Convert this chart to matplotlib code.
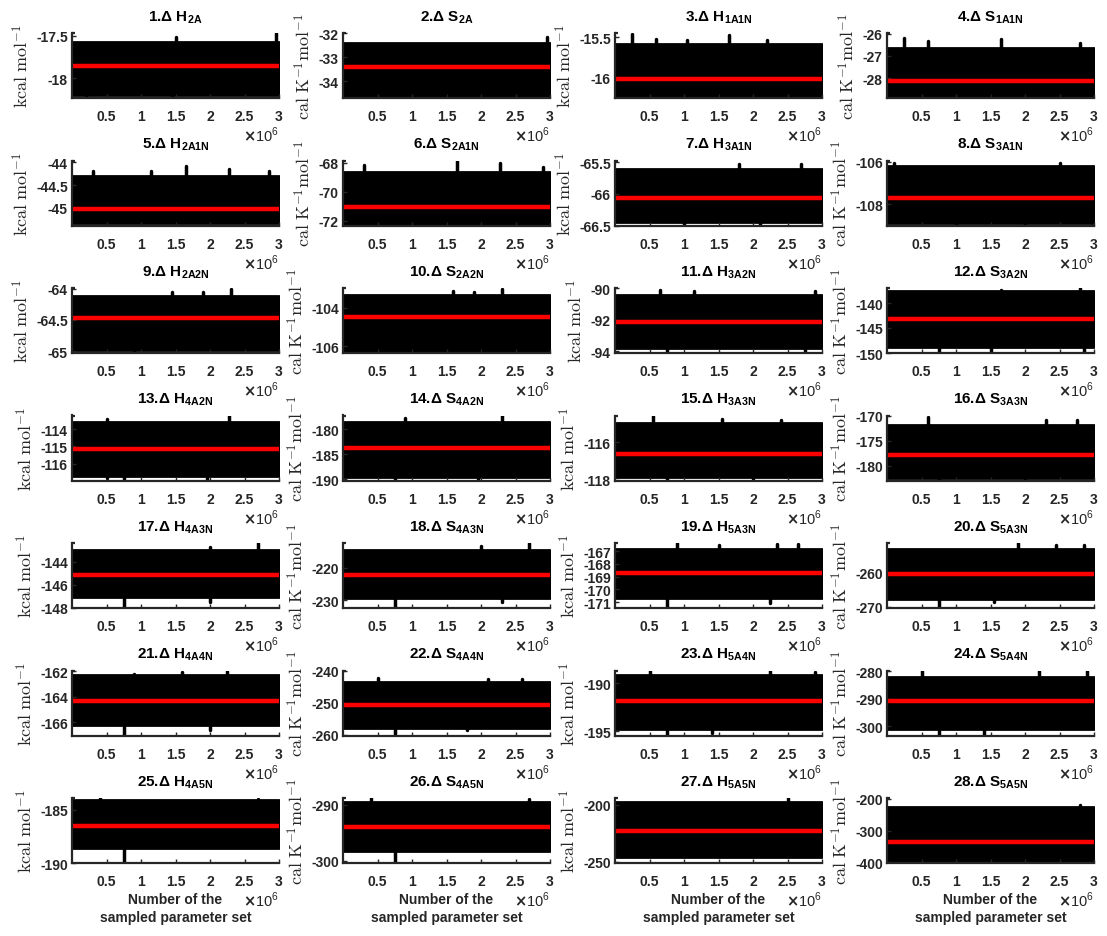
import matplotlib
matplotlib.use("Agg")
import matplotlib.pyplot as plt

plt.rcParams['font.family'] = ['Liberation Sans', 'DejaVu Sans']
plt.rcParams['font.weight'] = 'bold'
plt.rcParams['axes.unicode_minus'] = False
plt.rcParams['mathtext.fontset'] = 'custom'
plt.rcParams['mathtext.rm'] = 'Liberation Sans:bold'
plt.rcParams['mathtext.it'] = 'Liberation Sans:bold'
plt.rcParams['mathtext.bf'] = 'Liberation Sans:bold'

# ---------------- data ----------------
symbols = ['H', 'S'] * 14
subscripts = ['2A', '2A', '1A1N', '1A1N', '2A1N', '2A1N', '3A1N', '3A1N',
              '2A2N', '2A2N', '3A2N', '3A2N', '4A2N', '4A2N', '3A3N', '3A3N',
              '4A3N', '4A3N', '5A3N', '5A3N', '4A4N', '4A4N', '5A4N', '5A4N',
              '4A5N', '4A5N', '5A5N', '5A5N']

n_samples = 3.0e6
x_ticks = [0.5e6, 1.0e6, 1.5e6, 2.0e6, 2.5e6, 3.0e6]
x_ticklabels = ['0.5', '1', '1.5', '2', '2.5', '3']
xlabel_lines = ['Number of the', 'sampled parameter set']

# posterior mean (red line)
means = [-17.85, -33.40, -16.02, -28.11, -45.03, -71.04, -66.06, -107.73,
         -64.47, -104.47, -92.15, -143.2, -115.14, -183.7, -116.61, -177.9,
         -145.14, -222.2, -168.73, -260.3, -164.34, -250.7, -191.9, -291.0,
         -186.49, -294.0, -222.8, -335.0]
# bulk of the sampled trace (upper / lower edge)
band_top = [-17.57, -32.38, -15.59, -26.65, -44.29, -68.64, -65.60, -106.19,
            -64.12, -103.30, -90.42, -137.5, -113.61, -178.5, -114.99, -171.9,
            -143.0, -214.7, -166.8, -253.1, -162.34, -243.6, -189.2, -282.2,
            -184.1, -289.5, -197.4, -224.0]
band_bot = [-18.195, -34.63, -16.225, -28.81, -45.34, -72.23, -66.45, -108.9,
            -64.98, -106.26, -93.79, -148.7, -116.72, -189.5, -117.85, -182.4,
            -147.09, -229.3, -170.7, -267.6, -166.26, -257.9, -194.76, -301.2,
            -188.6, -298.2, -245.6, -403.0]
# axis limits
y_lo = [-18.23, -34.70, -16.25, -28.89, -45.39, -72.34, -66.50, -109.0,
        -65.03, -106.35, -94.10, -150.0, -116.97, -190.2, -118.04, -182.9,
        -148.03, -232.3, -171.46, -270.3, -167.05, -260.2, -195.45, -303.4,
        -190.0, -300.4, -250.9, -403.0]
y_hi = [-17.47, -31.98, -15.45, -25.97, -43.96, -67.84, -65.47, -105.95,
        -63.99, -102.96, -90.0, -137.0, -113.22, -177.3, -114.57, -170.2,
        -142.37, -212.5, -166.35, -251.4, -161.95, -240.0, -188.68, -279.76,
        -183.9, -288.75, -193.9, -197.0]
y_ticks = [[-18, -17.5], [-34, -33, -32], [-16, -15.5], [-28, -27, -26],
           [-45, -44.5, -44], [-72, -70, -68], [-66.5, -66, -65.5], [-108, -106],
           [-65, -64.5, -64], [-106, -104], [-94, -92, -90], [-150, -145, -140],
           [-116, -115, -114], [-190, -185, -180], [-118, -116], [-180, -175, -170],
           [-148, -146, -144], [-230, -220], [-171, -170, -169, -168, -167], [-270, -260],
           [-166, -164, -162], [-260, -250, -240], [-195, -190], [-300, -290, -280],
           [-190, -185], [-300, -290], [-250, -200], [-400, -300, -200]]
# isolated excursions (x in millions of samples, value)
spikes_up = [
    [(2.95, -17.47), (1.5, -17.52)],
    [(2.95, -32.15)],
    [(0.25, -15.46), (1.65, -15.47), (0.6, -15.52), (1.05, -15.53), (2.2, -15.53)],
    [(0.25, -26.2), (1.65, -26.25), (0.6, -26.35), (2.8, -26.4)],
    [(1.65, -44.09), (2.27, -44.14), (0.3, -44.18), (1.15, -44.2), (2.85, -44.2)],
    [(1.65, -67.84), (2.27, -68.02), (0.3, -68.18), (2.9, -68.3)],
    [(1.8, -65.52), (2.7, -65.53)],
    [(0.1, -106.05), (2.5, -106.05)],
    [(2.3, -64.0), (1.45, -64.05), (1.9, -64.05)],
    [(2.3, -103.0), (1.6, -103.1), (1.9, -103.15)],
    [(0.65, -90.15), (1.15, -90.2), (2.9, -90.2)],
    [(2.8, -137.0), (1.65, -137.3)],
    [(2.27, -113.22), (0.5, -113.4)],
    [(2.3, -177.3), (0.9, -177.8)],
    [(0.55, -114.57), (1.55, -114.75), (2.4, -114.8)],
    [(0.6, -170.3), (2.3, -170.9), (2.75, -170.8)],
    [(2.7, -142.37), (2.0, -142.7)],
    [(2.7, -212.5), (2.0, -213.5)],
    [(0.9, -166.35), (1.5, -166.5), (2.35, -166.4), (2.65, -166.4)],
    [(1.9, -251.4), (2.45, -252.0), (2.85, -252.0)],
    [(2.25, -161.95), (1.6, -162.1), (0.9, -162.2)],
    [(0.5, -242.3), (2.1, -242.6), (2.6, -242.7)],
    [(0.5, -188.68), (2.25, -188.7), (2.9, -188.8)],
    [(0.5, -280.0), (2.2, -279.76), (2.9, -280.0)],
    [(0.4, -183.9), (2.7, -184.0)],
    [(0.4, -288.8), (2.7, -288.9)],
    [(2.5, -194.2)],
    [(2.8, -220.0)],
]
spikes_down = [
    [(0.2, -18.22), (1.45, -18.23)],
    [(0.15, -34.68), (1.45, -34.68)],
    [(2.6, -16.24)],
    [(2.6, -28.88)],
    [],
    [],
    [(1.0, -66.5), (2.1, -66.49)],
    [(1.0, -109.0), (2.0, -108.98)],
    [(0.9, -65.02)],
    [(0.9, -106.33), (2.6, -106.33)],
    [(0.75, -94.1), (2.75, -94.0)],
    [(0.75, -149.5), (2.85, -149.9), (1.5, -149.5)],
    [(0.75, -116.97), (1.95, -116.9), (0.5, -116.85)],
    [(0.75, -190.1), (1.95, -190.0)],
    [(0.75, -118.04), (2.0, -117.95)],
    [(0.75, -182.9), (2.0, -182.8)],
    [(0.75, -148.03), (2.0, -147.5)],
    [(0.75, -232.3), (2.3, -230.5)],
    [(0.75, -171.46), (2.25, -171.1)],
    [(0.75, -270.3), (1.55, -268.5)],
    [(0.75, -167.05), (2.0, -166.6)],
    [(0.75, -260.2), (1.8, -258.5)],
    [(0.75, -195.45), (1.4, -195.2)],
    [(0.75, -303.4), (1.4, -302.8)],
    [(0.75, -189.9)],
    [(0.75, -300.4)],
    [],
    [],
]

# ---------------- figure ----------------
W, H = 1107, 937
fig = plt.figure(figsize=(W / 100, H / 100), dpi=100)

col_left = [72, 343, 615, 887]
ax_w, ax_h = 207, 65
row_top0, row_step = 34, 127.5
axis_col = '#262626'

kcal = r'$\mathrm{kcal\ mol}^{-1}$'
calK = r'$\mathrm{cal\ K}^{-1}\mathrm{mol}^{-1}$'

for i in range(28):
    r, c = divmod(i, 4)
    top_px = row_top0 + r * row_step
    ax = fig.add_axes([col_left[c] / W, 1 - (top_px + ax_h) / H, ax_w / W, ax_h / H])

    ax.fill_between([0, n_samples], [band_bot[i]] * 2, [band_top[i]] * 2,
                    color='black', edgecolor='black', lw=2)
    for xs, v in spikes_up[i]:
        ax.plot([xs * 1e6, xs * 1e6], [band_top[i], v], color='black', lw=2.5,
                solid_capstyle='round')
    for xs, v in spikes_down[i]:
        ax.plot([xs * 1e6, xs * 1e6], [band_bot[i], v], color='black', lw=2.5,
                solid_capstyle='round')
    ax.plot([0, n_samples], [means[i]] * 2, color='red', lw=3.2,
            solid_capstyle='butt')

    ax.set_xlim(0, n_samples)
    ax.set_ylim(y_lo[i], y_hi[i])
    ax.set_xticks(x_ticks)
    ax.set_xticklabels(x_ticklabels)
    ax.set_yticks(y_ticks[i])
    ax.set_yticklabels(['%g' % t for t in y_ticks[i]])

    for s in ['top', 'right']:
        ax.spines[s].set_visible(False)
    for s in ['left', 'bottom']:
        ax.spines[s].set_linewidth(1.6)
        ax.spines[s].set_color(axis_col)
    # small end stub at the top of the y axis (MATLAB style)
    ax.plot([0, 0.015], [1, 1], transform=ax.transAxes, color=axis_col,
            lw=1.6, clip_on=False, solid_capstyle='butt')
    ax.tick_params(direction='in', length=3, width=1, colors=axis_col,
                   labelsize=10)
    ax.tick_params(axis='x', pad=8)
    ax.tick_params(axis='y', pad=3)

    ax.set_title(f"{i + 1}.\u0394 {symbols[i]}$_{{{subscripts[i]}}}$",
                 fontsize=11, fontweight='bold', pad=9, color='black')
    ax.set_ylabel(kcal if symbols[i] == 'H' else calK, fontsize=13,
                  math_fontfamily='cm', fontweight='normal', labelpad=3,
                  color=axis_col)
    ax.text(1.0, -0.665, r'$\times$10$^{\mathregular{6}}$', transform=ax.transAxes,
            ha='right', va='baseline', fontsize=10.5, fontweight='normal',
            color=axis_col, math_fontfamily='dejavusans')
    if r == 6:
        ax.text(0.5, -0.555, xlabel_lines[0], transform=ax.transAxes,
                ha='center', va='center', fontsize=10, fontweight='bold',
                color=axis_col)
        ax.text(0.5, -0.835, xlabel_lines[1], transform=ax.transAxes,
                ha='center', va='center', fontsize=10, fontweight='bold',
                color=axis_col)

fig.savefig('out.png', dpi=100)
